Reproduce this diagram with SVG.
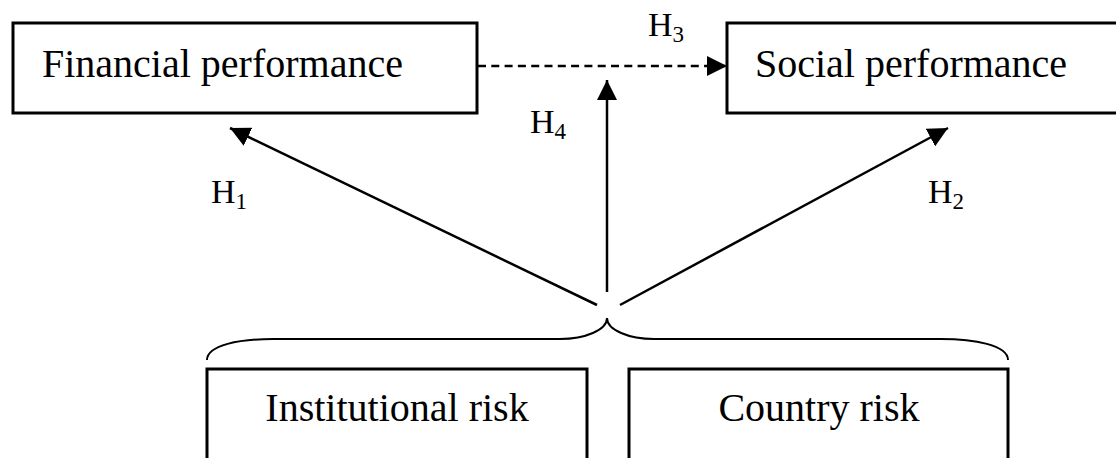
<svg xmlns="http://www.w3.org/2000/svg" width="1116" height="458" viewBox="0 0 1116 458">
<defs>
<style>
.box{fill:#fff;stroke:#000;stroke-width:3}
.t{font-family:"Liberation Serif","Times New Roman",serif;font-size:40px;fill:#000}
.h{font-family:"Liberation Serif","Times New Roman",serif;font-size:34px;fill:#000}
.sub{font-size:23px}
.conn{stroke:#000;stroke-width:2.5;fill:none}
</style>
<marker id="ah" viewBox="0 0 20 20" refX="20" refY="10" markerWidth="20" markerHeight="20" markerUnits="userSpaceOnUse" orient="auto">
<path d="M0,0 L20,10 L0,20 Z" fill="#000"/>
</marker>
</defs>
<rect width="1116" height="458" fill="#fff"/>
<g id="financial">
<rect class="box" x="13" y="23" width="464" height="90"/>
<text class="t" x="42" y="77">Financial performance</text>
</g>
<g id="social">
<rect class="box" x="727" y="23" width="400" height="90"/>
<text class="t" x="755" y="77">Social performance</text>
</g>
<g id="institutional">
<rect class="box" x="207" y="369" width="380" height="110"/>
<text class="t" x="397" y="421" text-anchor="middle">Institutional risk</text>
</g>
<g id="country">
<rect class="box" x="629" y="369" width="379" height="110"/>
<text class="t" x="819" y="421" text-anchor="middle">Country risk</text>
</g>
<g id="connectors">
<line class="conn" x1="478" y1="66" x2="727" y2="66" stroke-dasharray="8,5.3" marker-end="url(#ah)"/>
<line class="conn" x1="607" y1="292" x2="607" y2="80" marker-end="url(#ah)"/>
<line class="conn" x1="597" y1="305" x2="230" y2="128" marker-end="url(#ah)"/>
<line class="conn" x1="620" y1="305" x2="948" y2="128" marker-end="url(#ah)"/>
<path d="M207,360 C207,345 240,339 273,339 L560,339 C585,339 607,330 607,318 C607,330 629,339 654,339 L941,339 C974,339 1008,345 1008,360" fill="none" stroke="#000" stroke-width="2"/>
</g>
<g id="labels">
<text class="h" x="648" y="36">H<tspan class="sub" dy="6">3</tspan></text>
<text class="h" x="530" y="133">H<tspan class="sub" dy="6">4</tspan></text>
<text class="h" x="211" y="203">H<tspan class="sub" dy="6">1</tspan></text>
<text class="h" x="928" y="203">H<tspan class="sub" dy="6">2</tspan></text>
</g>
</svg>
